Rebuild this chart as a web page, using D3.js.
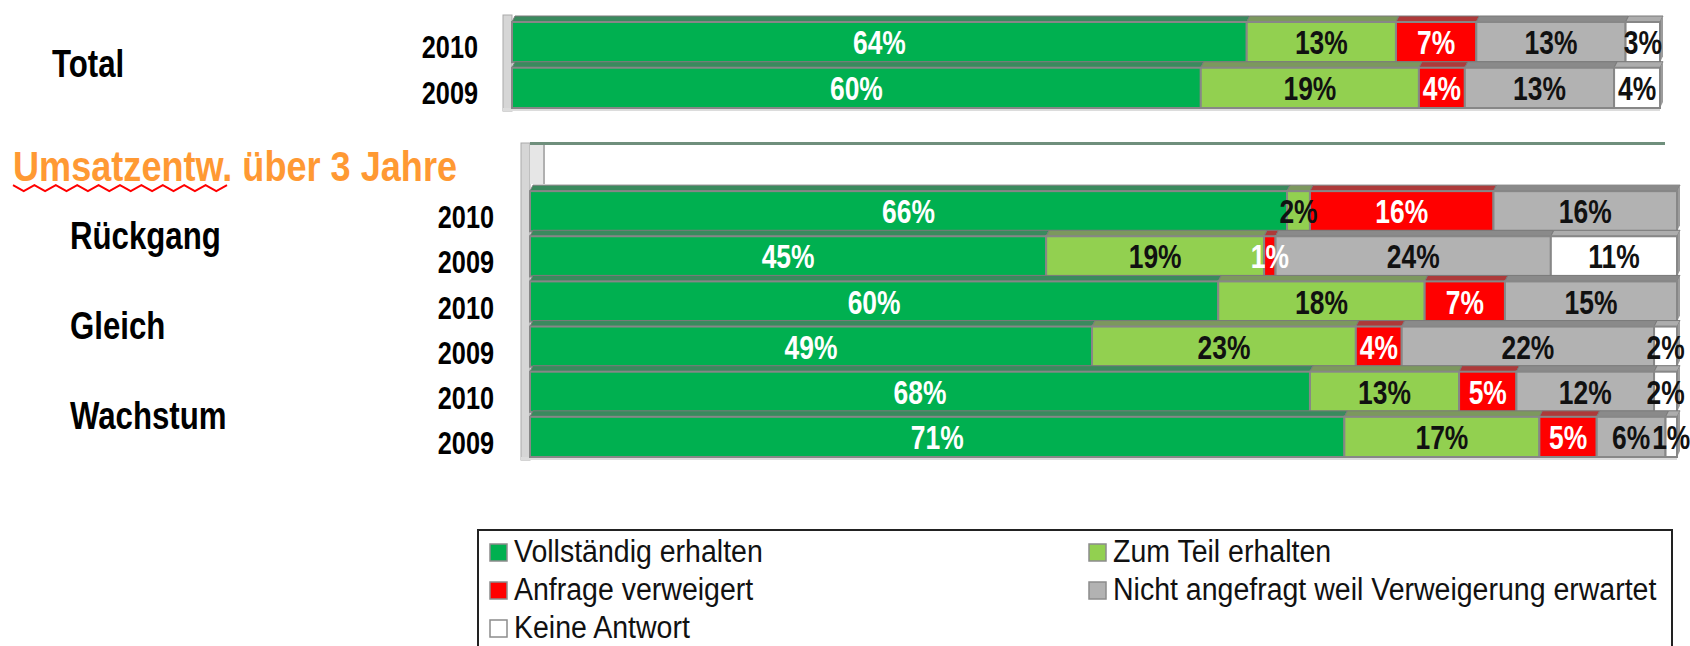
<!DOCTYPE html>
<html>
<head>
<meta charset="utf-8">
<script src="https://cdn.jsdelivr.net/npm/d3@7"></script>
<style>
  body { margin: 0; background: #fff; }
  svg { display: block; font-family: "Liberation Sans", Arial, sans-serif; }
</style>
</head>
<body>
<svg width="1690" height="646"></svg>
<script>
// series (stack order) and colours
const series = ["Vollständig erhalten", "Zum Teil erhalten", "Anfrage verweigert",
    "Nicht angefragt  weil Verweigerung erwartet", "Keine Antwort"];
const colors = ["#00B050", "#92D050", "#FF0000", "#B2B2B2", "#FFFFFF"];

// upper block: Total
const totalGroup = "Total";
const totalYears = ["2010", "2009"];
const totalValues = [
    [64, 13, 7, 13, 3],
    [60, 19, 4, 13, 4]
];

// lower block: turnover development over 3 years
const headerLabel = "Umsatzentw. über 3 Jahre";
const groupLabels = ["Rückgang", "Gleich", "Wachstum"];
const rowYears = ["2010", "2009", "2010", "2009", "2010", "2009"];
const rowValues = [
    [66, 2, 16, 16, 0],
    [45, 19, 1, 24, 11],
    [60, 18, 7, 15, 0],
    [49, 23, 4, 22, 2],
    [68, 13, 5, 12, 2],
    [71, 17, 5, 6, 1]
];

const svg = d3.select("svg");
const darkText = new Set([1, 3, 4]); // series with black labels

function squeezedText(g, x, y, txt, size, sx, opts = {}) {
    return g.append("text")
        .attr("transform", `translate(${x},${y}) scale(${sx},1)`)
        .attr("text-anchor", opts.anchor || "start")
        .attr("font-size", size)
        .attr("font-weight", opts.weight || "normal")
        .attr("fill", opts.fill || "#000")
        .text(txt);
}

function stackRow(values) {
    let acc = 0;
    return values.map((v, i) => {
        const d = { i, v, x0: acc, x1: acc + v };
        acc += v;
        return d;
    });
}

function drawBars(g, rows, keys, y, x) {
    const h = y.bandwidth();
    const dx = 3, dz = 6;
    rows.forEach((vals, r) => {
        const top = y(keys[r]);
        const segs = stackRow(vals).filter(d => d.v > 0);
        const row = g.append("g");

        // top faces (3D)
        row.selectAll("path.top")
            .data(segs)
            .enter().append("path")
            .attr("d", d => `M${x(d.x0)},${top} L${x(d.x1)},${top} L${x(d.x1) + dx},${top - dz} L${x(d.x0) + dx},${top - dz} Z`)
            .attr("fill", d => d3.interpolateRgb(colors[d.i], "#6a6a6a")(0.55))
            .attr("stroke", "#7a7a7a")
            .attr("stroke-width", 1);

        // right side face
        const last = segs[segs.length - 1];
        row.append("path")
            .attr("d", `M${x(last.x1)},${top} L${x(last.x1) + dx},${top - dz} L${x(last.x1) + dx},${top + h - dz} L${x(last.x1)},${top + h} Z`)
            .attr("fill", "#9c9c9c");

        // front faces
        row.selectAll("rect")
            .data(segs)
            .enter().append("rect")
            .attr("x", d => x(d.x0))
            .attr("y", top)
            .attr("width", d => x(d.x1) - x(d.x0))
            .attr("height", h)
            .attr("fill", d => colors[d.i])
            .attr("stroke", "#878787")
            .attr("stroke-width", 2);

        // value labels
        segs.forEach(d => {
            squeezedText(row, (x(d.x0) + x(d.x1)) / 2, top + h / 2 + 12, `${d.v}%`, 33, 0.8, {
                anchor: "middle",
                weight: "bold",
                fill: darkText.has(d.i) ? "#111" : "#fff"
            });
        });
    });
}

// ---------- upper block ----------
const xTop = d3.scaleLinear().domain([0, 100]).range([512, 1660]);
const yTop = d3.scaleBand().domain(totalYears).range([22, 108]).paddingInner(0.12);

const gTop = svg.append("g");
gTop.append("rect")
    .attr("x", 503).attr("y", 15).attr("width", 9).attr("height", 96)
    .attr("fill", "#d6d6d6").attr("stroke", "#a9a9a9");
gTop.append("rect")
    .attr("x", 503).attr("y", 108).attr("width", xTop(100) - 503).attr("height", 3)
    .attr("fill", "#dcdcdc");
drawBars(gTop, totalValues, totalYears, yTop, xTop);

totalYears.forEach(k => {
    squeezedText(gTop, 478, yTop(k) + yTop.bandwidth() / 2 + 16, k, 32, 0.79, { anchor: "end", weight: "bold" });
});
squeezedText(gTop, 52, 77, totalGroup, 39, 0.8, { weight: "bold" });

// ---------- lower block ----------
const rowKeys = ["header"].concat(rowYears.map((yr, i) => `${i}-${yr}`));
const xBot = d3.scaleLinear().domain([0, 100]).range([530, 1677]);
const yBot = d3.scaleBand().domain(rowKeys).range([146, 457]).paddingInner(0.11);

const gBot = svg.append("g");
// wall and empty header row
gBot.append("rect")
    .attr("x", 521).attr("y", 143).attr("width", 9).attr("height", 317)
    .attr("fill", "#d6d6d6").attr("stroke", "#a9a9a9");
gBot.append("rect")
    .attr("x", 530).attr("y", 144).attr("width", 14).attr("height", 40)
    .attr("fill", "#e6e6e6");
gBot.append("line")
    .attr("x1", 544).attr("x2", 544).attr("y1", 144).attr("y2", 184)
    .attr("stroke", "#b0b0b0").attr("stroke-width", 2);
gBot.append("line")
    .attr("x1", 530).attr("x2", 1665).attr("y1", 143.5).attr("y2", 143.5)
    .attr("stroke", "#6f8f7c").attr("stroke-width", 3);
gBot.append("rect")
    .attr("x", 521).attr("y", 457).attr("width", xBot(100) - 521).attr("height", 3)
    .attr("fill", "#dcdcdc");

drawBars(gBot, rowValues, rowKeys.slice(1), yBot, xBot);

rowKeys.slice(1).forEach((k, i) => {
    squeezedText(gBot, 494, yBot(k) + yBot.bandwidth() / 2 + 17, rowYears[i], 32, 0.79, { anchor: "end", weight: "bold" });
});
groupLabels.forEach((lab, i) => {
    const a = yBot(rowKeys[1 + i * 2]);
    const b = yBot(rowKeys[2 + i * 2]) + yBot.bandwidth();
    squeezedText(gBot, 70, (a + b) / 2 + 15, lab, 39, 0.8, { weight: "bold" });
});

// header label with spell-check squiggle
const hy = yBot("header") + yBot.bandwidth() / 2 + 15;
squeezedText(gBot, 13, hy, headerLabel, 43, 0.84, { weight: "bold", fill: "#FF9933" });
const zig = d3.range(0, 21).map(i => [13 + i * 10.7, i % 2 ? hy + 10 : hy + 4]);
gBot.append("path")
    .attr("d", d3.line()(zig))
    .attr("fill", "none")
    .attr("stroke", "#FF0000")
    .attr("stroke-width", 2);

// ---------- legend ----------
const lg = svg.append("g");
lg.append("rect")
    .attr("x", 478).attr("y", 530).attr("width", 1194).attr("height", 160)
    .attr("fill", "#fff").attr("stroke", "#222").attr("stroke-width", 2);

const legendCols = [490, 1089];
const legendRows = [562, 600, 638];
series.forEach((s, i) => {
    const lx = legendCols[i % 2];
    const ly = legendRows[Math.floor(i / 2)];
    lg.append("rect")
        .attr("x", lx).attr("y", ly - 18).attr("width", 17).attr("height", 17)
        .attr("fill", colors[i]).attr("stroke", "#8c8c8c").attr("stroke-width", 1.5);
    squeezedText(lg, lx + 24, ly, s, 31, 0.92, { fill: "#111" });
});
</script>
</body>
</html>
